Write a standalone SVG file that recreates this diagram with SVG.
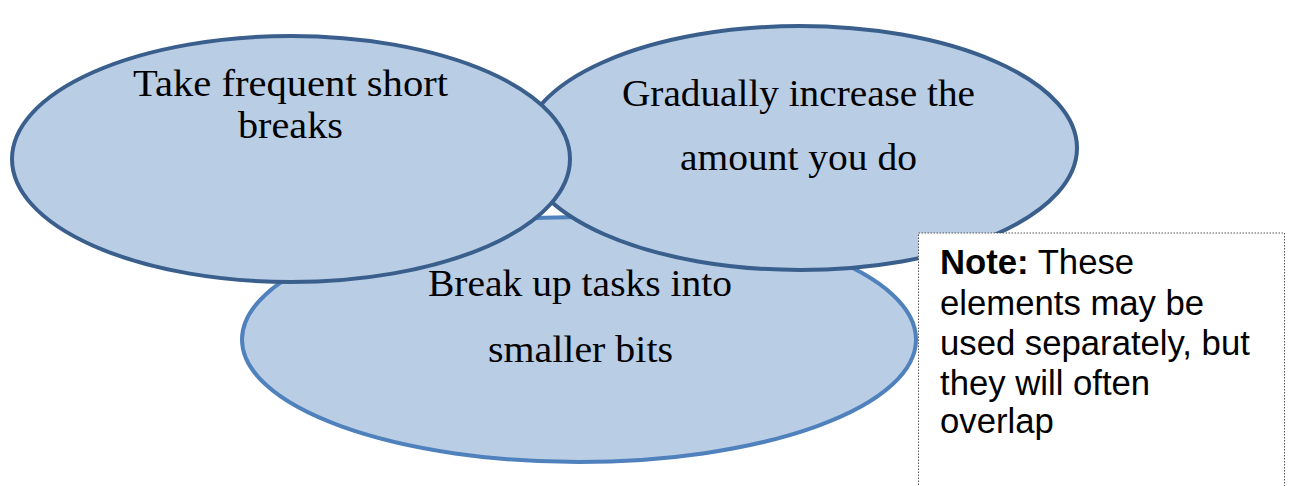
<svg xmlns="http://www.w3.org/2000/svg" width="1290" height="486" viewBox="0 0 1290 486">
<style>
.ell{fill:#B9CDE5;stroke-width:4}
.dark{stroke:#3A5F8D}
.light{stroke:#4F81BD}
.lbl{font-family:"Liberation Serif","Times New Roman",serif;font-size:38px;fill:#000;text-anchor:middle}
.note{font-family:"Liberation Sans",Arial,sans-serif;font-size:34.7px;fill:#000}
</style>
<rect width="1290" height="486" fill="#fff"/>
<g id="connectors"/>
<g id="node-break">
<ellipse class="ell light" cx="579" cy="339.5" rx="337" ry="122.5"/>
<text class="lbl" x="580" y="296" textLength="304" lengthAdjust="spacingAndGlyphs">Break up tasks into</text>
<text class="lbl" x="580.5" y="362" textLength="185" lengthAdjust="spacingAndGlyphs">smaller bits</text>
</g>
<g id="node-gradually">
<ellipse class="ell dark" cx="800" cy="148" rx="277" ry="122"/>
<text class="lbl" x="798.5" y="106" textLength="353" lengthAdjust="spacingAndGlyphs">Gradually increase the</text>
<text class="lbl" x="798.5" y="170" textLength="237" lengthAdjust="spacingAndGlyphs">amount you do</text>
</g>
<g id="node-breaks">
<ellipse class="ell dark" cx="291" cy="159" rx="279" ry="123"/>
<text class="lbl" x="290.5" y="96" textLength="315" lengthAdjust="spacingAndGlyphs">Take frequent short</text>
<text class="lbl" x="290.5" y="138" textLength="105" lengthAdjust="spacingAndGlyphs">breaks</text>
</g>
<g id="node-note">
<rect x="918.5" y="233" width="366" height="270" fill="#fff" stroke="#555" stroke-width="1" stroke-dasharray="1.5 1.5"/>
<text class="note" x="940" y="274"><tspan font-weight="bold">Note:</tspan> These</text>
<text class="note" x="940" y="315">elements may be</text>
<text class="note" x="940" y="355">used separately, but</text>
<text class="note" x="940" y="395">they will often</text>
<text class="note" x="940" y="433">overlap</text>
</g>
</svg>
